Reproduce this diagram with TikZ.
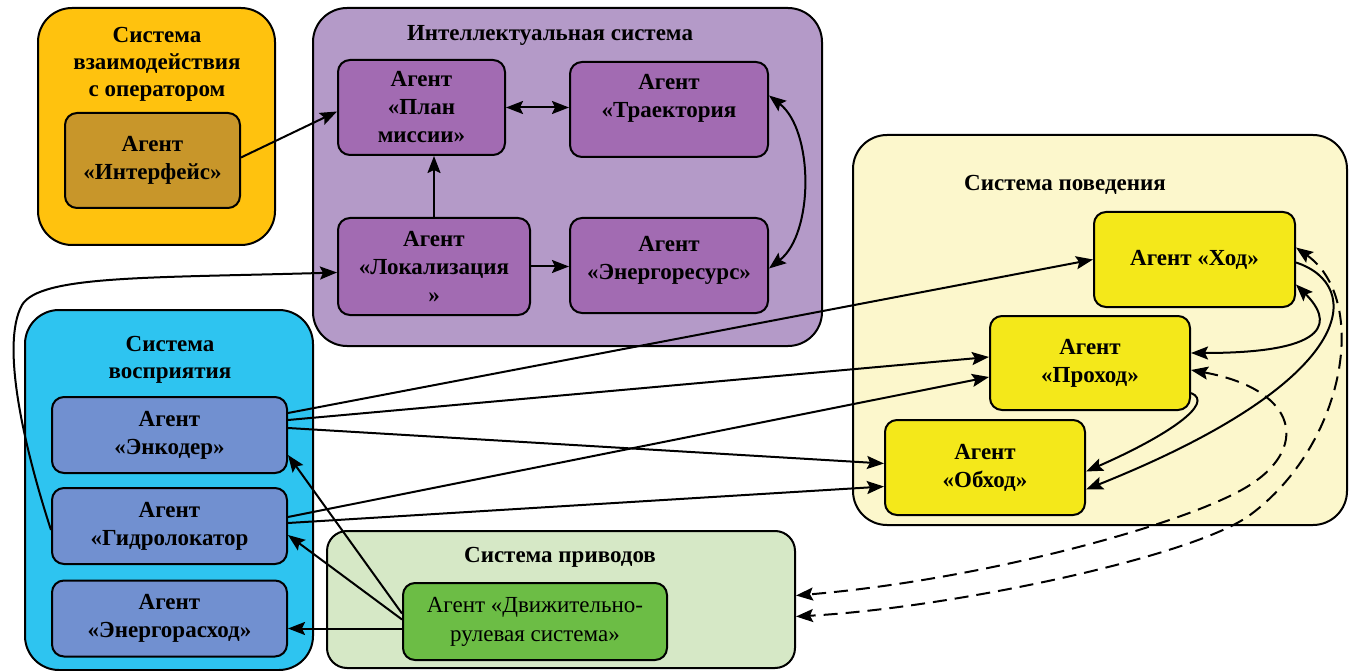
\documentclass[tikz,border=0pt]{standalone}
\usepackage{fontspec}
\setmainfont{Liberation Serif}
\usetikzlibrary{arrows.meta}

\definecolor{sysorange}{RGB}{255,194,14}
\definecolor{agorange}{RGB}{200,150,42}
\definecolor{syspurple}{RGB}{180,154,200}
\definecolor{agpurple}{RGB}{162,107,178}
\definecolor{sysyellow}{RGB}{252,247,204}
\definecolor{agyellow}{RGB}{244,232,26}
\definecolor{sysblue}{RGB}{46,196,240}
\definecolor{agblue}{RGB}{113,144,208}
\definecolor{sysgreen}{RGB}{214,232,198}
\definecolor{aggreen}{RGB}{108,189,69}

\begin{document}
\begin{tikzpicture}[x=1pt,y=-1pt,
	sysbox/.style={draw,line width=2pt,rounded corners=34pt,inner sep=0pt},
	agent/.style={draw,line width=2pt,rounded corners=12pt,inner sep=0pt,align=center,font=\bfseries\fontsize{23}{28}\selectfont},
	systitle/.style={align=center,font=\bfseries\fontsize{23}{27}\selectfont},
	link/.style={line width=2pt,-{Stealth[length=17pt,width=13pt,inset=3pt]}},
	twoway/.style={line width=2pt,{Stealth[length=17pt,width=13pt,inset=3pt]}-{Stealth[length=17pt,width=13pt,inset=3pt]}},
	dashlink/.style={twoway,dash pattern=on 14pt off 8pt}]
				\useasboundingbox (0,0) rectangle (1350,671);
				%% subsystems placed by hand
				\node[sysbox,fill=sysorange,minimum width=237pt,minimum height=237pt] (sop) at (156.5,126.5) {};
				\node[sysbox,fill=syspurple,minimum width=509pt,minimum height=338pt] (sint) at (567.5,177) {};
				\node[sysbox,fill=sysyellow,minimum width=494pt,minimum height=390pt] (sbeh) at (1100,330) {};
				\node[sysbox,fill=sysblue,minimum width=288pt,minimum height=360pt] (sper) at (169,490) {};
				\node[sysbox,fill=sysgreen,rounded corners=20pt,minimum width=468pt,minimum height=137pt] (sact) at (561,599.5) {};

				\node[systitle] (top) at (157,64) {Система\\взаимодействия\\с оператором};
				\node[systitle] (tint) at (550,35) {Интеллектуальная система};
				\node[systitle] (tbeh) at (1065,185) {Система поведения};
				\node[systitle] (tper) at (170,360) {Система\\восприятия};
				\node[systitle] (tact) at (560,557) {Система приводов};

				%% agents
				\node[agent,fill=agorange,minimum width=175pt,minimum height=95pt] (intf) at (152.5,160.5) {Агент\\«Интерфейс»};

				\node[agent,fill=agpurple,minimum width=167pt,minimum height=95pt] (plan) at (421.5,107.5) {Агент\\«План\\миссии»};
				\node[agent,fill=agpurple,minimum width=198pt,minimum height=95pt] (traj) at (669,109.5) {Агент\\«Траектория\\\mbox{}};
				\node[agent,fill=agpurple,minimum width=192pt,minimum height=97pt] (lok) at (434,266.5) {Агент\\«Локализация\\»};
				\node[agent,fill=agpurple,minimum width=198pt,minimum height=95pt] (enres) at (669,265.5) {Агент\\«Энергоресурс»\\[-13pt]\mbox{}};

				\node[agent,fill=agyellow,minimum width=201pt,minimum height=95pt] (hod) at (1194.5,259.5) {Агент «Ход»};
				\node[agent,fill=agyellow,minimum width=200pt,minimum height=94pt] (prohod) at (1090,363) {Агент\\«Проход»};
				\node[agent,fill=agyellow,minimum width=200pt,minimum height=95pt] (obhod) at (985,467.5) {Агент\\«Обход»};

				%% perception agents drawn with a loop
				\foreach \name/\y/\txt in {enc/435/{Агент\\«Энкодер»}, gidro/526/{Агент\\«Гидролокатор}, enras/618.5/{Агент\\«Энергорасход»}}{
					\node[agent,fill=agblue,minimum width=235pt,minimum height=76pt] (\name) at (169.5,\y) {\txt};
					}

				\node[agent,fill=aggreen,font=\fontsize{23}{29}\selectfont,minimum width=264pt,minimum height=77pt] (dvig) at (535,621.5) {Агент «Движительно-\\рулевая система»};

				%% links inside the intelligent system
				\draw[link] ([yshift=3pt]intf.east)--([yshift=-4pt]plan.west);
				\draw[twoway] (plan.east)--(plan.east -| traj.west);
				\draw[link] (lok.north)--(lok.north |- plan.south);
				\draw[link] (lok.east)--(lok.east -| enres.west);
				\draw[twoway] ([yshift=14pt]traj.east) .. controls +(45,35) and +(45,-35) .. ([yshift=-3pt]enres.east);

				%% sensors to behaviours
				\draw[link] ([yshift=22pt]enc.east)--(hod.west);
				\draw[link] ([yshift=15pt]enc.east)--([yshift=6pt]prohod.west);
				\draw[link] ([yshift=7pt]enc.east)--([yshift=4pt]obhod.west);
				\draw[link] ([yshift=9pt]gidro.east)--([yshift=-14pt]prohod.west);
				\draw[link] ([yshift=3pt]gidro.east)--([yshift=-19pt]obhod.west);
				\draw[link] ([yshift=-4pt]gidro.west) .. controls (25,450) and (0,345) .. (22,305) .. controls (40,275) and (150,278) .. ([yshift=-6pt]lok.west);

				%% actuators to sensors
				\draw[link] ([yshift=8pt]dvig.west)--([yshift=-20pt]enc.east);
				\draw[link] ([yshift=2pt]dvig.west)--([yshift=-9pt]gidro.east);
				\draw[link] ([yshift=-7pt]dvig.west)--([yshift=-10pt]enras.east);

				%% between behaviours
				\draw[twoway] ([yshift=-25pt]hod.east) .. controls +(35,35) and +(145,0) .. ([yshift=10pt]prohod.east);
				\draw[link] ([yshift=-3pt]hod.east) .. controls (1365,285) and (1360,380) .. ([yshift=-22pt]obhod.east);
				\draw[link] ([yshift=-30pt]prohod.east) .. controls +(25,10) and +(80,-35) .. ([yshift=-4pt]obhod.east);

				%% back to the actuators
				\draw[dashlink] ([yshift=12pt]hod.east) .. controls (1370,300) and (1345,445) .. (1250,515) .. controls (1193,557) and (950,608) .. ([yshift=-17pt]sact.east);
				\draw[dashlink] ([yshift=-7pt]prohod.east) .. controls (1300,390) and (1310,450) .. (1245,488) .. controls (1180,526) and (980,580) .. ([yshift=4pt]sact.east);
				\end{tikzpicture}
\end{document}
